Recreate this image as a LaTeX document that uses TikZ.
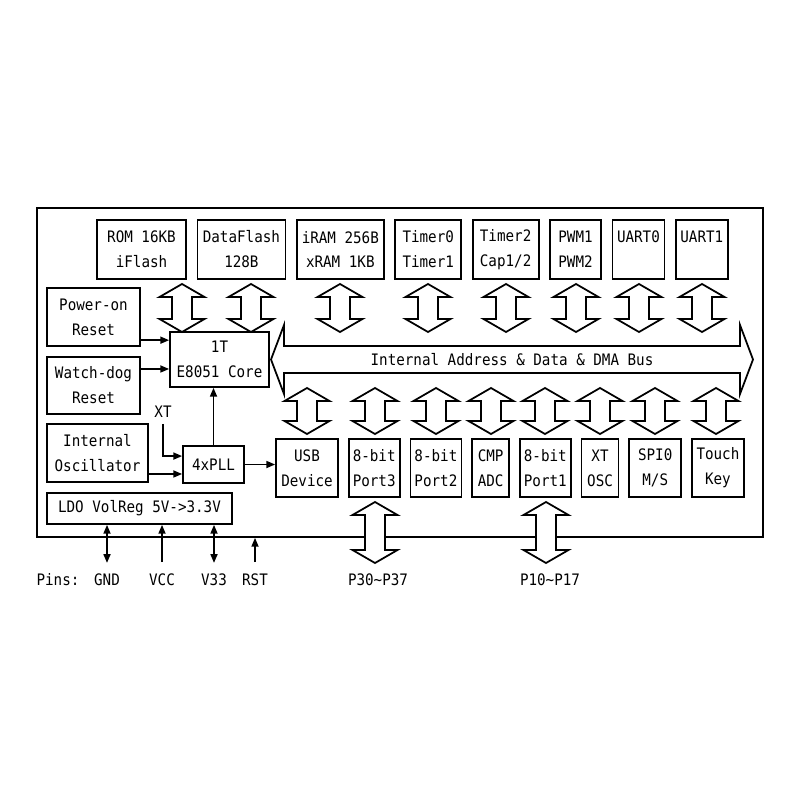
\documentclass[tikz,border=0pt]{standalone}
\usepackage{fontspec}
\setmonofont[FakeStretch=0.9]{DejaVu Sans Mono}
\usetikzlibrary{arrows.meta, positioning}
\tikzset{>={Triangle[length=5pt,width=4pt]},
every node/.style={font=\ttfamily\fontsize{9}{14.2}\selectfont},
blk/.style 2 args={draw, line width=1pt, align=center, inner sep=0pt,
  minimum width=#1*0.02cm, minimum height=#2*0.02cm},
sig/.style={line width=0.9pt},
fatarrow/.style={draw, line width=1pt, fill=white, line join=miter}
}
% hollow vertical double arrow: x, top y, bottom y
\newcommand{\vbus}[3]{%
  \draw[fatarrow] (#1,#2) -- ++(22.5,13) -- ++(-12.5,0) -- (#1+10,#3-13) -- ++(12.5,0)
    -- (#1,#3) -- ++(-22.5,-13) -- ++(12.5,0) -- (#1-10,#2+13) -- ++(-12.5,0) -- cycle;}

\begin{document}
\begin{tikzpicture}[x=0.02cm, y=-0.02cm]
\useasboundingbox (0,0) rectangle (800,800);
\node[blk={726}{329}] (chip) at (400,372.5) {};

% top row
\node[blk={89}{59}] (rom) at (141.5,249.5) {ROM 16KB\\iFlash};
\node[blk={88}{59}, right=0.193cm of rom] (dflash) {DataFlash\\128B};
\node[blk={87}{59}, right=0.193cm of dflash] (ram) {iRAM 256B\\xRAM 1KB};
\node[blk={66}{59}, right=0.193cm of ram] (tmr) {Timer0\\Timer1};
\node[blk={66}{59}, right=0.193cm of tmr] (tmrcap) {Timer2\\Cap1/2};
\node[blk={51}{59}, right=0.193cm of tmrcap] (pwm) {PWM1\\PWM2};
\node[blk={52}{59}, right=0.193cm of pwm] (uarta) {UART0\\\phantom{UART0}};
\node[blk={52}{59}, right=0.193cm of uarta] (uartb) {UART1\\\phantom{UART1}};

% left side
\node[blk={93}{58}] (pwr) at (93.5,317) {Power-on\\Reset};
\node[blk={93}{57}] (wdt) at (93.5,385.5) {Watch-dog\\Reset};
\node[blk={101}{58}] (osc) at (97.5,453) {Internal\\Oscillator};
\node[blk={185}{31}] (ldo) at (139.5,508.5) {LDO VolReg 5V->3.3V};
\node[blk={99}{55}] (core) at (219.5,359.5) {1T\\E8051 Core};
\node[blk={61}{37}] (pll) at (213.5,464.5) {4xPLL};
\node (xt) at (163,412) {XT};

% bottom row
\node[blk={62}{58}] (usb) at (307,468) {USB\\Device};
\node[blk={51}{58}, right=0.179cm of usb] (pthree) {8-bit\\Port3};
\node[blk={51}{58}, right=0.179cm of pthree] (ptwo) {8-bit\\Port2};
\node[blk={37}{58}, right=0.179cm of ptwo] (adc) {CMP\\ADC};
\node[blk={51}{58}, right=0.179cm of adc] (pone) {8-bit\\Port1};
\node[blk={37}{58}, right=0.179cm of pone] (xtosc) {XT\\OSC};
\node[blk={52}{58}, right=0.179cm of xtosc] (spi) {SPI0\\M/S};
\node[blk={52}{58}, right=0.179cm of spi] (touch) {Touch\\Key};

% bus
\draw[fatarrow] (271,359.5) -- (284,325) -- (284,346) -- (740,346) -- (740,325)
  -- (753,359.5) -- (740,394) -- (740,373) -- (284,373) -- (284,394) -- cycle;
\node (busname) at (512,360) {Internal Address \& Data \& DMA Bus};
\foreach \x in {182,251,340,428,506,576,639,702} {\vbus{\x}{284}{332}}
\foreach \x in {307,375,436,491,545,600,655,716} {\vbus{\x}{388}{434}}

% clocks and resets
\coordinate (pwrin) at ([yshift=11pt]core.west);
\coordinate (wdtin) at ([yshift=-5.4pt]core.west);
\coordinate (oscin) at ([yshift=-5.4pt]pll.west);
\coordinate (xtin) at ([yshift=4.8pt]pll.west);
\draw[sig,->] (pwrin -| pwr.east) -- (pwrin);
\draw[sig,->] (wdtin -| wdt.east) -- (wdtin);
\draw[sig,->] (oscin -| osc.east) -- (oscin);
\draw[sig,->] (xt.south) |- (xtin);
\draw[sig,->] (pll.north) -- (pll.north |- core.south);
\draw[sig,->] (pll.east) -- (pll.east -| usb.west);

% pins
\node (pins) at (58,580) {Pins:};
\node (gnd) at (107,580) {GND};
\node (vcc) at (162,580) {VCC};
\node (vreg) at (214,580) {V33};
\node (rst) at (255,580) {RST};
\node (pthreepins) at (378,580) {P30\textasciitilde P37};
\node (ponepins) at (550,580) {P10\textasciitilde P17};
\draw[sig,<->] (ldo.south -| gnd) -- ++(0,38);
\draw[sig,->] (vcc) ++(0,-18) -- (vcc |- ldo.south);
\draw[sig,<->] (ldo.south -| vreg) -- ++(0,38);
\draw[sig,->] (rst) ++(0,-18) -- (rst |- chip.south);
\vbus{375}{502}{563}
\vbus{546}{502}{563}
\end{tikzpicture}
\end{document}
